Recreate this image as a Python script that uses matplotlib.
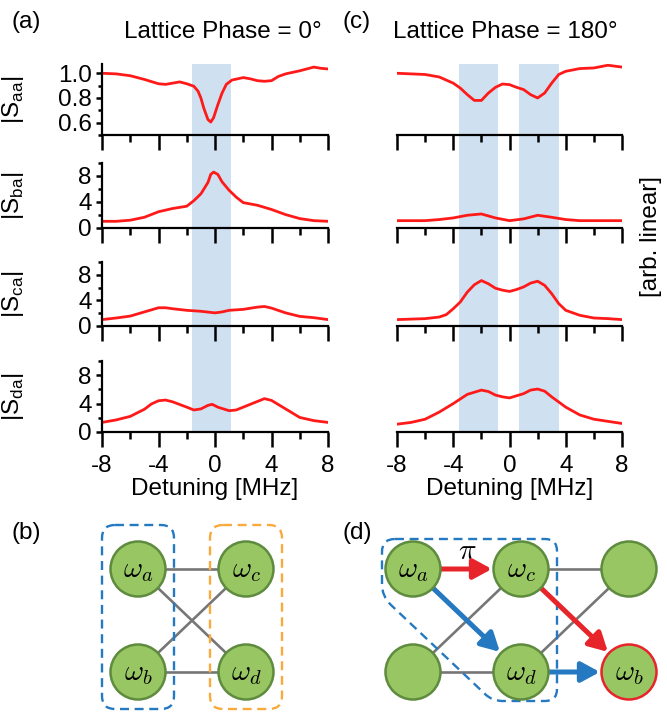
import matplotlib
matplotlib.use('Agg')
import matplotlib.pyplot as plt
from matplotlib.patches import Circle, FancyArrowPatch, FancyBboxPatch, PathPatch
from matplotlib.path import Path
from matplotlib.ticker import MultipleLocator

plt.rcParams['font.family'] = ['Liberation Sans', 'DejaVu Sans']
plt.rcParams['mathtext.fontset'] = 'custom'
plt.rcParams['mathtext.rm'] = 'Liberation Sans'
plt.rcParams['axes.unicode_minus'] = False

# ---------------- data ----------------
x_aa_0 = [-8, -7, -6, -5, -4, -3.5, -3, -2.5, -2, -1.5, -1.2, -1.0, -0.8, -0.5, -0.3, -0.1,
          0.2, 0.5, 0.8, 1.2, 2, 2.5, 3, 3.5, 4, 4.5, 5, 6, 7, 7.5, 8]
s_aa_0 = [1.0, 0.995, 0.98, 0.95, 0.915, 0.91, 0.92, 0.93, 0.915, 0.895, 0.855, 0.80, 0.72,
          0.625, 0.605, 0.64, 0.745, 0.84, 0.91, 0.945, 0.965, 0.955, 0.94, 0.935, 0.94,
          0.975, 0.995, 1.02, 1.05, 1.04, 1.035]

x_ba_0 = [-8, -7, -6, -5, -4, -3, -2, -1.5, -1, -0.5, -0.3, -0.1, 0.2, 0.5, 1, 1.5, 2, 3, 4,
          5, 6, 7, 8]
s_ba_0 = [1.03, 1.03, 1.2, 1.65, 2.5, 3.0, 3.35, 4.2, 5.25, 7.0, 8.25, 8.6, 8.25, 7.1, 5.8,
          4.75, 3.9, 3.5, 2.85, 2.06, 1.45, 1.13, 1.03]

x_ca_0 = [-8, -7, -6, -5, -4, -3.5, -3, -2, -1, 0, 0.5, 1, 2, 3, 3.5, 4, 5, 6, 7, 8]
s_ca_0 = [1.0, 1.25, 1.55, 2.2, 2.85, 2.85, 2.7, 2.45, 2.3, 2.05, 2.2, 2.45, 2.6, 2.95, 3.05,
          2.8, 2.05, 1.5, 1.3, 1.0]

x_da_0 = [-8, -7, -6, -5, -4.5, -4, -3.5, -3, -2, -1.5, -1, -0.5, -0.2, 0.2, 1, 1.5, 2, 3,
          3.5, 4, 5, 6, 7, 8]
s_da_0 = [1.35, 1.7, 2.2, 3.2, 3.95, 4.4, 4.5, 4.25, 3.5, 3.1, 3.25, 3.75, 3.9, 3.5, 3.0, 3.1,
          3.5, 4.3, 4.7, 4.45, 3.25, 2.05, 1.6, 1.35]

x_aa_180 = [-8, -7, -6, -5, -4, -3.5, -3, -2.5, -2, -1.5, -1, -0.5, 0, 0.5, 1, 1.5, 2, 2.5,
            3, 3.5, 4, 5, 6, 7, 8]
s_aa_180 = [1.0, 0.995, 0.99, 0.97, 0.92, 0.88, 0.827, 0.78, 0.78, 0.84, 0.886, 0.913, 0.908,
            0.886, 0.868, 0.827, 0.80, 0.84, 0.92, 0.99, 1.016, 1.038, 1.043, 1.065, 1.05]

x_ba_180 = [-8, -6, -5, -4, -3, -2, -1, 0, 1, 2, 3, 4, 5, 8]
s_ba_180 = [1.13, 1.13, 1.3, 1.55, 1.96, 2.16, 1.55, 1.13, 1.4, 1.96, 1.65, 1.3, 1.13, 1.13]

x_ca_180 = [-8, -6, -5, -4.5, -4, -3.5, -3, -2.5, -2, -1.5, -1, -0.5, 0, 0.5, 1, 1.5, 2, 2.5,
            3, 3.5, 4, 5, 6, 7, 8]
s_ca_180 = [1.0, 1.15, 1.4, 1.77, 2.7, 3.75, 5.3, 6.45, 7.1, 6.6, 5.9, 5.6, 5.4, 5.7, 6.1,
            6.7, 7.0, 6.35, 5.05, 3.5, 2.45, 1.67, 1.25, 1.15, 1.0]

x_da_180 = [-8, -7, -6, -5, -4, -3, -2, -1.5, -1, -0.5, 0, 0.5, 1, 1.5, 2, 2.5, 3, 4, 5, 6,
            7, 8]
s_da_180 = [1.1, 1.35, 1.8, 2.8, 4.0, 5.3, 5.9, 5.7, 5.2, 4.95, 4.8, 5.1, 5.4, 5.9, 6.05,
            5.75, 4.95, 3.5, 2.4, 1.8, 1.5, 1.2]

ylabels = [r'|S$_{\mathregular{aa}}$|', r'|S$_{\mathregular{ba}}$|',
           r'|S$_{\mathregular{ca}}$|', r'|S$_{\mathregular{da}}$|']
titles = ['Lattice Phase = 0°', 'Lattice Phase = 180°']
spans_0 = [(-1.65, 1.15)]
spans_180 = [(-3.62, -0.85), (0.7, 3.52)]

xticks_major = [-8, -4, 0, 4, 8]
xticks_minor = [-6, -2, 2, 6]

columns = [
    dict(x=[x_aa_0, x_ba_0, x_ca_0, x_da_0], y=[s_aa_0, s_ba_0, s_ca_0, s_da_0], spans=spans_0),
    dict(x=[x_aa_180, x_ba_180, x_ca_180, x_da_180],
         y=[s_aa_180, s_ba_180, s_ca_180, s_da_180], spans=spans_180),
]

# ---------------- layout ----------------
W, H = 667, 712
fig = plt.figure(figsize=(W / 100, H / 100), dpi=100)


def fr(l, t, r, b):
    return [l / W, 1 - b / H, (r - l) / W, (b - t) / H]


col_px = [(102, 328), (397, 622)]
row_px = [(64, 135), (163, 228), (262, 326), (361, 432)]
FS = 17.5
LINE_RED = '#ff1a1a'
SHADE = '#cfe1f1'

for ci, col in enumerate(columns):
    xl, xr = col_px[ci]
    bg = fig.add_axes(fr(xl, row_px[0][0], xr, row_px[-1][1]))
    bg.set_xlim(-8, 8)
    for a, b in col['spans']:
        bg.axvspan(a, b, color=SHADE, lw=0)
    bg.axis('off')
    bg.set_zorder(-1)
    for ri in range(4):
        t, b = row_px[ri]
        ax = fig.add_axes(fr(xl, t, xr, b))
        ax.set_facecolor('none')
        ax.plot(col['x'][ri], col['y'][ri], color=LINE_RED, lw=2.0)
        ax.set_xlim(-8, 8)
        if ri == 0:
            ax.set_ylim(0.5, 1.075)
            ax.set_yticks([0.6, 0.8, 1.0])
            ax.yaxis.set_minor_locator(MultipleLocator(0.1))
            ax.set_yticklabels(['0.6', '0.8', '1.0'])
        else:
            ax.set_ylim(0, 10)
            ax.set_yticks([0, 4, 8])
            ax.yaxis.set_minor_locator(MultipleLocator(2))
        ax.set_xticks(xticks_major)
        ax.set_xticks(xticks_minor, minor=True)
        for s in ['top', 'right']:
            ax.spines[s].set_visible(False)
        for s in ['left', 'bottom']:
            ax.spines[s].set_linewidth(1.6)
        ax.tick_params(axis='x', which='major', direction='out', length=10.5, width=1.8,
                       labelsize=FS, pad=6)
        ax.tick_params(axis='x', which='minor', direction='out', length=5, width=1.8)
        ax.tick_params(axis='y', which='major', direction='out', length=4.5, width=1.8,
                       labelsize=FS, pad=3)
        ax.tick_params(axis='y', which='minor', direction='out', length=3, width=1.8)
        if ri < 3:
            ax.set_xticklabels([])
        else:
            ax.set_xlabel('Detuning [MHz]', fontsize=FS, labelpad=1)
        if ci == 0:
            ax.set_ylabel(ylabels[ri], fontsize=FS)
            ax.yaxis.set_label_coords(-0.335, 0.5)
        else:
            ax.spines['left'].set_visible(False)
            ax.tick_params(axis='y', which='both', left=False, labelleft=False)

fig.text(223 / W, 1 - 32 / H, titles[0], ha='center', va='center', fontsize=FS)
fig.text(505 / W, 1 - 32 / H, titles[1], ha='center', va='center', fontsize=FS)
fig.text(651 / W, 1 - 237 / H, '[arb. linear]', rotation=90, ha='center', va='center',
         fontsize=FS)
for lab, (px, py) in zip(['(a)', '(c)', '(b)', '(d)'],
                         [(12, 22), (343, 22), (12, 533), (343, 533)]):
    fig.text(px / W, 1 - py / H, lab, ha='left', va='center', fontsize=FS)

# ---------------- diagrams ----------------
dax = fig.add_axes([0, 0, 1, 1])
dax.set_xlim(0, W)
dax.set_ylim(H, 0)
dax.axis('off')

GREEN = '#98c663'
GREEN_EDGE = '#5e8b3e'
GREY = '#767676'
RED = '#e8242b'
BLUE = '#2479c1'
ORANGE = '#f8aa3c'
R = 27.5
DX, DY = 108, 103

# node lists: (label, column, row)
nodes_b = [('a', 0, 0), ('c', 1, 0), ('b', 0, 1), ('d', 1, 1)]
edges_b = [((0, 0), (1, 0)), ((0, 1), (1, 1)), ((0, 0), (1, 1)), ((0, 1), (1, 0))]
nodes_d = [('a', 0, 0), ('c', 1, 0), (None, 2, 0), (None, 0, 1), ('d', 1, 1), ('b', 2, 1)]
edges_d = [((1, 0), (2, 0)), ((0, 1), (1, 1)), ((0, 1), (1, 0)), ((1, 1), (2, 0))]
arrows_d = [((0, 0), (1, 0), RED), ((0, 0), (1, 1), BLUE), ((1, 0), (2, 1), RED),
            ((1, 1), (2, 1), BLUE)]


def pos(origin, c, r):
    return origin[0] + c * DX, origin[1] + r * DY


def draw_graph(origin, nodes, edges, red_node=None):
    for (c1, r1), (c2, r2) in edges:
        p1, p2 = pos(origin, c1, r1), pos(origin, c2, r2)
        dax.plot([p1[0], p2[0]], [p1[1], p2[1]], color=GREY, lw=1.9, zorder=2,
                 solid_capstyle='butt')
    for lab, c, r in nodes:
        p = pos(origin, c, r)
        ec = RED if lab == red_node else GREEN_EDGE
        dax.add_patch(Circle(p, R, facecolor=GREEN, edgecolor=ec, lw=1.8, zorder=4))
        if lab:
            dax.text(p[0], p[1] + 1, r'$\omega_%s$' % lab, math_fontfamily='cm',
                     fontsize=21, ha='center', va='center', zorder=5)


origin_b = (138, 569)
origin_d = (413, 569)

# dashed group boxes for (b)
for c, colr in [(0, BLUE), (1, ORANGE)]:
    cx, cy = pos(origin_b, c, 0)
    dax.add_patch(FancyBboxPatch((cx - 36, cy - 44), 72, 184,
                                 boxstyle='round,pad=0,rounding_size=13',
                                 facecolor='none', edgecolor=colr, lw=1.7,
                                 linestyle=(0, (3.8, 2.4)), zorder=3))
draw_graph(origin_b, nodes_b, edges_b)

# dashed outline for (d)
verts = [(395, 539), (545, 539), (557, 539), (557, 551), (557, 689), (557, 701), (545, 701),
         (503, 701), (492, 701), (485, 694), (391, 605), (382, 596), (382, 585), (382, 552),
         (382, 539), (395, 539)]
codes = [Path.MOVETO, Path.LINETO, Path.CURVE3, Path.CURVE3, Path.LINETO, Path.CURVE3,
         Path.CURVE3, Path.LINETO, Path.CURVE3, Path.CURVE3, Path.LINETO, Path.CURVE3,
         Path.CURVE3, Path.LINETO, Path.CURVE3, Path.CURVE3]
dax.add_patch(PathPatch(Path(verts, codes), facecolor='none', edgecolor=BLUE, lw=1.7,
                        linestyle=(0, (3.8, 2.4)), zorder=3))
draw_graph(origin_d, nodes_d, edges_d, red_node='b')
for (c1, r1), (c2, r2), colr in arrows_d:
    p1, p2 = pos(origin_d, c1, r1), pos(origin_d, c2, r2)
    dax.add_patch(FancyArrowPatch(p1, p2, arrowstyle='-|>,head_length=0.55,head_width=0.3',
                                  mutation_scale=20, lw=3.6, color=colr, shrinkA=20,
                                  shrinkB=21, zorder=3.5))
pa, pc = pos(origin_d, 0, 0), pos(origin_d, 1, 0)
dax.text((pa[0] + pc[0]) / 2, pa[1] - 18, r'$\pi$', math_fontfamily='cm', fontsize=21,
         ha='center', va='center')

fig.savefig('out.png', dpi=100)
